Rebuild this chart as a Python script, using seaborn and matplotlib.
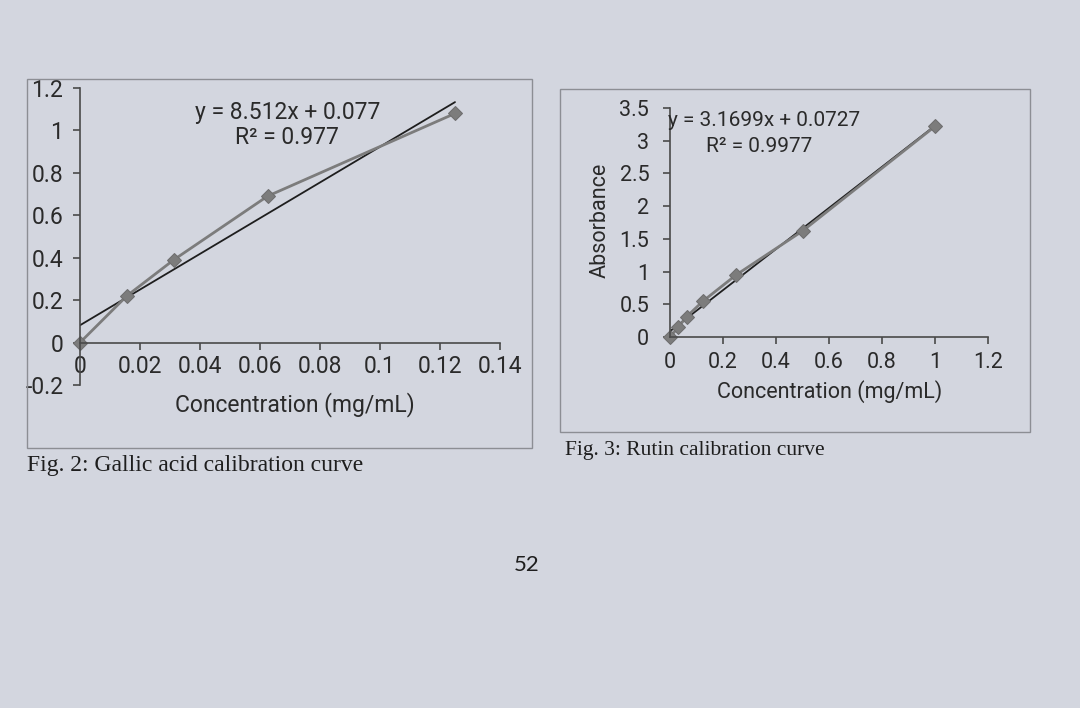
import numpy as np
import pandas as pd
import matplotlib
matplotlib.use("Agg")
import matplotlib.pyplot as plt
from matplotlib.patches import Rectangle
from matplotlib.ticker import FuncFormatter, MultipleLocator
import seaborn as sns

# ---- data ----
gallic_conc = [0.0, 0.0156, 0.03125, 0.0625, 0.125]
gallic_abs = [0.0, 0.22, 0.39, 0.69, 1.08]
gallic_eq = "y = 8.512x + 0.077"
gallic_r2 = "R² = 0.977"
gallic_caption = "Fig. 2: Gallic acid calibration curve"

rutin_conc = [0.0, 0.03125, 0.0625, 0.125, 0.25, 0.5, 1.0]
rutin_abs = [0.0, 0.15, 0.31, 0.55, 0.95, 1.62, 3.22]
rutin_eq = "y = 3.1699x + 0.0727"
rutin_r2 = "R² = 0.9977"
rutin_caption = "Fig. 3: Rutin calibration curve"

x_label = "Concentration (mg/mL)"
y_label = "Absorbance"
page_number = "52"

sns.set_theme(style="white")
plt.rcParams["font.family"] = ["Roboto", "DejaVu Sans"]

BG = "#d3d6df"
W, H = 1080, 708
fig = plt.figure(figsize=(10.8, 7.08), dpi=100, facecolor=BG)

def fx(px):
    return px / W

def fy(py):
    return 1 - py / H

# chart frames
for (x0, y0, x1, y1) in [(27, 79, 532, 448), (560, 89, 1030, 432)]:
    fig.add_artist(Rectangle((fx(x0), fy(y1)), fx(x1) - fx(x0), fy(y0) - fy(y1),
                             transform=fig.transFigure, fill=False,
                             edgecolor="#8c8e94", lw=1.0))

fmt = FuncFormatter(lambda v, p: f"{v:g}")
TXT = "#2a2a2a"
SP = "#4a4a4a"
TS1 = 16.5
TS2 = 15.5

# ---- left chart: gallic acid ----
ax1 = fig.add_axes([fx(80), fy(385), fx(500) - fx(80), fy(88) - fy(385)])
ax1.set_facecolor("none")
df1 = pd.DataFrame({"conc": gallic_conc, "abs": gallic_abs})
sns.regplot(data=df1, x="conc", y="abs", scatter=False, ci=None, truncate=True,
            line_kws=dict(color="#1e1e1e", lw=1.3), ax=ax1)
sns.lineplot(data=df1, x="conc", y="abs", color="#7c7c7c", lw=2.0, marker="D",
             markersize=7, markeredgecolor="#6e6e6e", ax=ax1, clip_on=False)
ax1.set_xlim(0, 0.14)
ax1.set_ylim(-0.2, 1.2)
ax1.xaxis.set_major_locator(MultipleLocator(0.02))
ax1.yaxis.set_major_locator(MultipleLocator(0.2))
ax1.xaxis.set_major_formatter(fmt)
ax1.yaxis.set_major_formatter(fmt)
for s in ["top", "right"]:
    ax1.spines[s].set_visible(False)
ax1.spines["bottom"].set_position(("data", 0))
for s in ["left", "bottom"]:
    ax1.spines[s].set_color(SP)
    ax1.spines[s].set_linewidth(1.2)
ax1.tick_params(axis="both", direction="out", length=5, width=1.2, color=SP,
                labelsize=TS1, labelcolor=TXT, left=True, bottom=True)
ax1.tick_params(axis="y", pad=7)
ax1.tick_params(axis="x", pad=4)
ax1.set_xlabel("")
ax1.set_ylabel("")
fig.text(fx(295), fy(405), x_label, ha="center", va="center", fontsize=TS1, color=TXT)
fig.text(fx(288), fy(112), gallic_eq, ha="center", va="center", fontsize=TS1, color=TXT)
fig.text(fx(287), fy(138), gallic_r2, ha="center", va="center", fontsize=TS1, color=TXT)

# ---- right chart: rutin ----
ax2 = fig.add_axes([fx(670), fy(337), fx(988) - fx(670), fy(108) - fy(337)])
ax2.set_facecolor("none")
df2 = pd.DataFrame({"conc": rutin_conc, "abs": rutin_abs})
sns.regplot(data=df2, x="conc", y="abs", scatter=False, ci=None, truncate=True,
            line_kws=dict(color="#1e1e1e", lw=1.3), ax=ax2)
sns.lineplot(data=df2, x="conc", y="abs", color="#7c7c7c", lw=2.0, marker="D",
             markersize=7, markeredgecolor="#6e6e6e", ax=ax2, clip_on=False)
ax2.set_xlim(0, 1.2)
ax2.set_ylim(0, 3.5)
ax2.xaxis.set_major_locator(MultipleLocator(0.2))
ax2.yaxis.set_major_locator(MultipleLocator(0.5))
ax2.xaxis.set_major_formatter(fmt)
ax2.yaxis.set_major_formatter(fmt)
for s in ["top", "right"]:
    ax2.spines[s].set_visible(False)
for s in ["left", "bottom"]:
    ax2.spines[s].set_color(SP)
    ax2.spines[s].set_linewidth(1.2)
ax2.tick_params(axis="both", direction="out", length=5, width=1.2, color=SP,
                labelsize=TS2, labelcolor=TXT, left=True, bottom=True)
ax2.tick_params(axis="y", pad=10)
ax2.tick_params(axis="x", pad=6)
ax2.set_xlabel("")
ax2.set_ylabel("")
fig.text(fx(830), fy(392), x_label, ha="center", va="center", fontsize=TS2, color=TXT)
fig.text(fx(600), fy(220), y_label, ha="center", va="center", rotation=90,
         fontsize=TS2, color=TXT)
fig.text(fx(764), fy(121), rutin_eq, ha="center", va="center", fontsize=TS2 - 0.5, color=TXT)
fig.text(fx(759), fy(147), rutin_r2, ha="center", va="center", fontsize=TS2 - 0.5, color=TXT)

# ---- captions and page number ----
fig.text(fx(27), fy(466), gallic_caption, ha="left", va="center", fontsize=17,
         family=["Liberation Serif", "DejaVu Serif"], color="#1e1e1e")
fig.text(fx(565), fy(450), rutin_caption, ha="left", va="center", fontsize=15.5,
         family=["Liberation Serif", "DejaVu Serif"], color="#1e1e1e")
fig.text(fx(527), fy(565), page_number, ha="center", va="center", fontsize=16,
         family=["Lato", "DejaVu Sans"], color="#1e1e1e")

fig.savefig("out.png", dpi=100, facecolor=BG)
